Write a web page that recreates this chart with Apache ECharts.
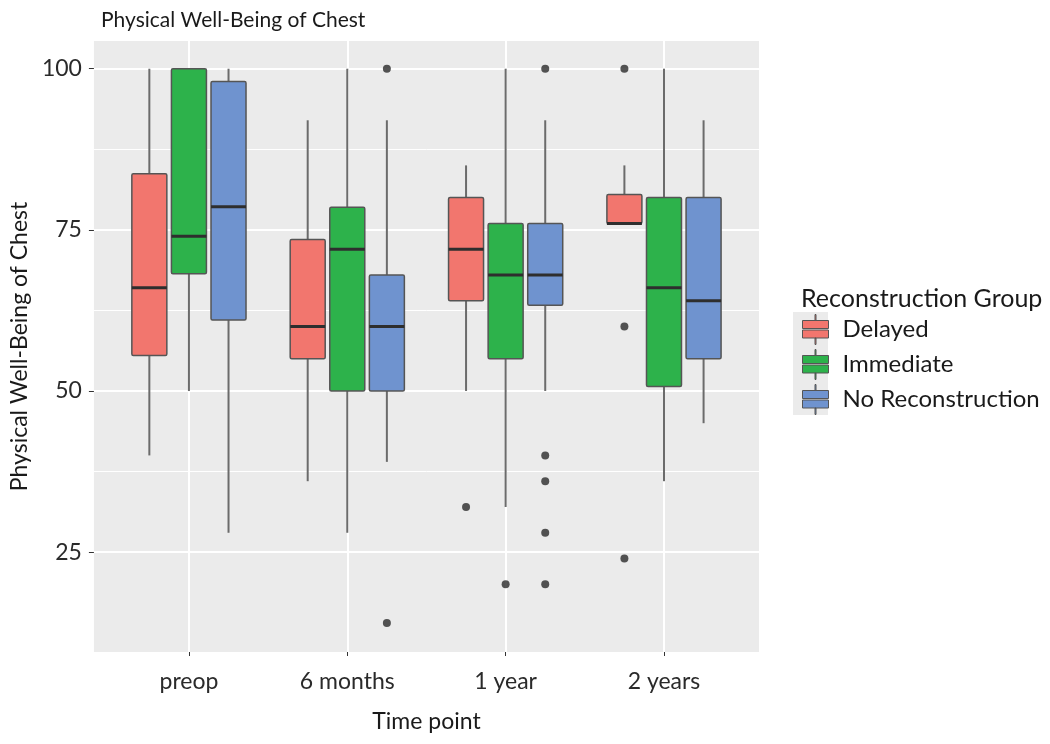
<!DOCTYPE html>
<html>
<head>
<meta charset="utf-8">
<script src="https://cdn.jsdelivr.net/npm/echarts@6/dist/echarts.min.js"></script>
<style>html,body{margin:0;padding:0;background:#fff}#chart{width:1050px;height:744px}</style>
</head>
<body>
<div id="chart"></div>
<script>
// ---- data ----
const categories = ['preop', '6 months', '1 year', '2 years'];
const groups = ['Delayed', 'Immediate', 'No Reconstruction'];
const groupColors = ['#F2766E', '#2DB24B', '#6F93CF'];
// [min, Q1, median, Q3, max] per category
const delayedStats = [
  [40, 55.5, 66, 83.7, 100],
  [36, 55, 60, 73.5, 92],
  [50, 64, 72, 80, 85],
  [76, 76, 76, 80.5, 85]
];
const immediateStats = [
  [50, 68.2, 74, 100, 100],
  [28, 50, 72, 78.5, 100],
  [32, 55, 68, 76, 100],
  [36, 50.7, 66, 80, 100]
];
const noReconStats = [
  [28, 61, 78.6, 98, 100],
  [39, 50, 60, 68, 92],
  [50, 63.3, 68, 76, 92],
  [45, 55, 64, 80, 92]
];
const delayedOutliers = [[], [], [32], [100, 60, 24]];
const immediateOutliers = [[], [], [20], []];
const noReconOutliers = [[], [100, 14], [100, 40, 36, 28, 20], []];
const yTicks = [25, 50, 75, 100];
const yMinorTicks = [37.5, 62.5, 87.5];

// ---- build ----
const statsByGroup = [delayedStats, immediateStats, noReconStats];
const outliersByGroup = [delayedOutliers, immediateOutliers, noReconOutliers];
const dodge = [-0.25, 0, 0.25];
const BOX_W = 35;
const FONT = 'Lato';

function renderBox(color) {
  return function (params, api) {
    const x = api.value(0);
    const lo = api.coord([x, api.value(1)]);
    const q1 = api.coord([x, api.value(2)]);
    const med = api.coord([x, api.value(3)]);
    const q3 = api.coord([x, api.value(4)]);
    const hi = api.coord([x, api.value(5)]);
    const cx = lo[0];
    const w = BOX_W;
    return {
      type: 'group',
      children: [
        { type: 'line', shape: { x1: cx, y1: hi[1], x2: cx, y2: q3[1] }, style: { stroke: '#6b6b6b', lineWidth: 2 } },
        { type: 'line', shape: { x1: cx, y1: q1[1], x2: cx, y2: lo[1] }, style: { stroke: '#6b6b6b', lineWidth: 2 } },
        { type: 'rect', shape: { x: cx - w / 2, y: q3[1], width: w, height: Math.max(q1[1] - q3[1], 0.5), r: 1.5 },
          style: { fill: color, stroke: '#555', lineWidth: 1.5 } },
        { type: 'line', shape: { x1: cx - w / 2, y1: med[1], x2: cx + w / 2, y2: med[1] }, style: { stroke: '#2e2e2e', lineWidth: 3 } }
      ]
    };
  };
}

const series = [];
groups.forEach((g, gi) => {
  series.push({
    name: g,
    type: 'custom',
    itemStyle: { color: groupColors[gi] },
    encode: { x: 0, y: [1, 2, 3, 4, 5] },
    renderItem: renderBox(groupColors[gi]),
    data: categories.map((c, i) => [i + 1 + dodge[gi]].concat(statsByGroup[gi][i])),
    z: 3
  });
});
groups.forEach((g, gi) => {
  const pts = [];
  categories.forEach((c, i) => {
    outliersByGroup[gi][i].forEach(v => pts.push([i + 1 + dodge[gi], v]));
  });
  series.push({
    name: g,
    type: 'scatter',
    symbol: 'circle',
    symbolSize: 8,
    itemStyle: { color: '#2b2b2b' },
    data: pts,
    z: 4
  });
});

const legendIcon = 'path://M12.5 0 h1 v6 h-1 z M0 6 h26 v8 h-26 z M0 15.5 h26 v8 h-26 z M12.5 23.5 h1 v6.5 h-1 z';

const option = {
  animation: false,
  backgroundColor: '#ffffff',
  textStyle: { fontFamily: FONT },
  title: [
    { text: 'Physical Well-Being of Chest', left: 96, top: 5,
      textStyle: { fontFamily: FONT, fontSize: 21, fontWeight: 'normal', color: '#1a1a1a' } },
    { text: 'Reconstruction Group', left: 796, top: 281,
      textStyle: { fontFamily: FONT, fontSize: 25, fontWeight: 'normal', color: '#1a1a1a' } }
  ],
  graphic: [
    { type: 'rect', left: 793, top: 312, shape: { width: 35, height: 103 }, style: { fill: '#EBEBEB' }, z: 0 }
  ],
  legend: {
    orient: 'vertical',
    left: 797,
    top: 309,
    itemWidth: 26,
    itemHeight: 30,
    itemGap: 4,
    textStyle: { fontFamily: FONT, fontSize: 24, color: '#1a1a1a', padding: [0, 0, 0, 9] },
    data: groups.map((g, gi) => ({
      name: g,
      icon: legendIcon,
      itemStyle: { color: groupColors[gi], borderColor: '#555', borderWidth: 1 }
    }))
  },
  grid: {
    left: 92, right: 291, top: 41, height: 611,
    show: true, backgroundColor: '#EBEBEB', borderWidth: 0
  },
  xAxis: {
    type: 'value',
    min: 0.4, max: 4.6,
    name: 'Time point',
    nameLocation: 'middle',
    nameGap: 58,
    nameTextStyle: { fontFamily: FONT, fontSize: 23, color: '#1a1a1a' },
    axisLine: { show: false },
    axisTick: { show: true, length: 4, customValues: [1, 2, 3, 4], lineStyle: { color: '#333', width: 1 } },
    axisLabel: {
      customValues: [1, 2, 3, 4], margin: 18,
      fontFamily: FONT, fontSize: 23, color: '#2a2a2a',
      formatter: v => categories[Math.round(v) - 1] || ''
    },
    splitLine: { show: true, lineStyle: { color: '#ffffff', width: 2 } }
  },
  yAxis: [
    {
      type: 'value',
      min: 9.5, max: 104.3,
      name: 'Physical Well-Being of Chest',
      nameLocation: 'middle',
      nameRotate: 90,
      nameGap: 52,
      nameTextStyle: { fontFamily: FONT, fontSize: 23, color: '#1a1a1a' },
      axisLine: { show: false },
      axisTick: { show: true, length: 5, customValues: yTicks, lineStyle: { color: '#333', width: 1 } },
      axisLabel: { customValues: yTicks, margin: 12, fontFamily: FONT, fontSize: 23, color: '#2a2a2a' },
      splitLine: { show: true, lineStyle: { color: '#ffffff', width: 2 } },
      z: 1
    },
    {
      type: 'value',
      min: 9.5, max: 104.3,
      position: 'left',
      axisLine: { show: false },
      axisTick: { show: false, customValues: yMinorTicks },
      axisLabel: { show: false, customValues: yMinorTicks },
      splitLine: { show: true, lineStyle: { color: '#ffffff', width: 1 } },
      z: 1
    }
  ],
  series: series
};

const chart = echarts.init(document.getElementById('chart'), null, { renderer: 'canvas' });
chart.setOption(option);
</script>
</body>
</html>
